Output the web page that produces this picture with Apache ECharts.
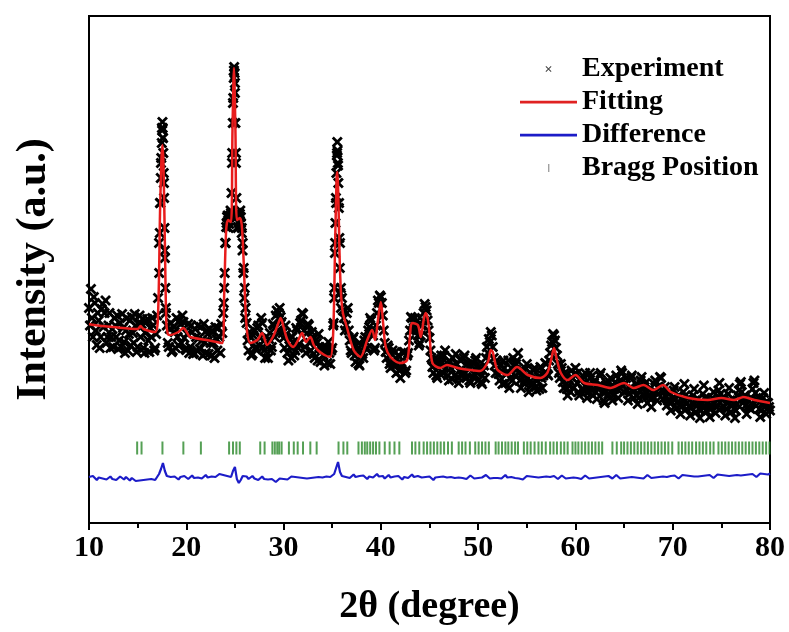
<!DOCTYPE html>
<html>
<head>
<meta charset="utf-8">
<script src="https://cdn.jsdelivr.net/npm/echarts@6/dist/echarts.min.js"></script>
<style>
  html, body { margin: 0; padding: 0; background: #fff; }
  #chart { width: 789px; height: 632px; }
</style>
</head>
<body>
<div id="chart"></div>
<script>
// Rietveld refinement of a powder XRD scan, 2θ = 10°–80°

// Observed scan: counts every 0.1°, starting at 10°
const scanStart = 10;
const scanStep = 0.1;
const scanCounts = [
  430, 395, 468, 410, 372, 452, 440, 385, 356, 420, 405, 350, 372, 428, 438, 392, 420, 445, 360, 372,  // 10.0–11.9
  395, 420, 350, 372, 388, 352, 410, 395, 372, 415, 348, 365, 400, 352, 418, 390, 362, 340, 385, 410,  // 12.0–13.9
  345, 378, 405, 355, 412, 380, 360, 418, 395, 342, 352, 398, 415, 372, 398, 408, 350, 340, 380, 402,  // 14.0–15.9
  408, 365, 342, 390, 372, 410, 395, 345, 350, 378, 415, 450, 560, 640, 720, 790, 770, 680, 545, 430,  // 16.0–17.9
  395, 360, 352, 388, 400, 342, 345, 392, 382, 350, 410, 372, 355, 405, 398, 360, 415, 402, 370, 348,  // 18.0–19.9
  346, 378, 398, 340, 352, 395, 382, 338, 340, 388, 372, 345, 395, 370, 348, 392, 365, 335, 398, 362,  // 20.0–21.9
  340, 385, 378, 338, 388, 360, 335, 382, 360, 330, 392, 368, 345, 390, 372, 340, 398, 380, 420, 470,  // 22.0–23.9
  560, 592, 612, 605, 598, 615, 620, 720, 840, 905, 880, 740, 620, 592, 600, 618, 612, 590, 560, 510,  // 24.0–25.9
  470, 430, 400, 365, 345, 382, 372, 335, 338, 375, 385, 348, 352, 390, 395, 355, 370, 410, 400, 352,  // 26.0–27.9
  345, 330, 372, 360, 330, 368, 380, 345, 352, 398, 395, 372, 415, 425, 385, 420, 430, 412, 402, 380,  // 28.0–29.9
  370, 350, 395, 378, 340, 325, 368, 352, 330, 372, 362, 335, 345, 390, 385, 350, 358, 400, 405, 420,  // 30.0–31.9
  418, 385, 352, 340, 380, 398, 395, 360, 345, 382, 372, 338, 330, 365, 360, 325, 378, 352, 322, 348,  // 32.0–33.9
  350, 335, 315, 352, 345, 320, 362, 340, 318, 345, 350, 395, 450, 560, 640, 740, 715, 640, 560, 470,  // 34.0–35.9
  450, 425, 410, 385, 395, 420, 430, 385, 365, 345, 340, 368, 372, 335, 322, 355, 348, 318, 315, 345,  // 36.0–37.9
  355, 338, 330, 365, 372, 348, 350, 385, 392, 410, 405, 380, 375, 345, 350, 395, 420, 445, 440, 455,  // 38.0–39.9
  452, 440, 415, 385, 360, 342, 330, 355, 350, 318, 310, 338, 345, 315, 322, 342, 300, 318, 335, 305,  // 40.0–41.9
  290, 308, 318, 340, 342, 300, 305, 335, 340, 365, 385, 412, 410, 385, 390, 410, 402, 388, 375, 355,  // 42.0–43.9
  360, 375, 395, 405, 420, 438, 432, 425, 405, 385, 370, 345, 330, 312, 300, 328, 322, 295, 290, 325,  // 44.0–45.9
  318, 298, 335, 322, 300, 335, 345, 310, 320, 295, 285, 322, 310, 288, 330, 315, 295, 338, 318, 292,  // 46.0–47.9
  280, 305, 325, 295, 300, 330, 335, 300, 290, 318, 312, 285, 280, 315, 320, 292, 298, 325, 330, 300,  // 48.0–49.9
  285, 312, 305, 282, 278, 305, 315, 290, 330, 352, 340, 368, 362, 382, 375, 352, 330, 315, 300, 325,  // 50.0–51.9
  320, 298, 285, 315, 305, 278, 325, 310, 280, 298, 300, 325, 270, 290, 310, 285, 330, 315, 295, 318,  // 52.0–53.9
  325, 340, 300, 285, 270, 298, 305, 280, 285, 308, 318, 290, 262, 282, 300, 275, 280, 305, 310, 272,  // 54.0–55.9
  265, 285, 292, 268, 312, 290, 270, 295, 300, 320, 318, 298, 295, 325, 340, 355, 362, 378, 375, 365,  // 56.0–57.9
  350, 335, 318, 300, 290, 318, 310, 282, 270, 300, 295, 268, 255, 275, 285, 262, 305, 290, 270, 298,  // 58.0–59.9
  310, 298, 280, 262, 255, 285, 290, 268, 265, 292, 300, 272, 250, 262, 278, 300, 292, 265, 255, 280,  // 60.0–61.9
  285, 262, 248, 268, 275, 295, 300, 275, 262, 245, 240, 262, 280, 270, 258, 282, 290, 265, 245, 255,  // 62.0–63.9
  268, 282, 295, 268, 250, 272, 285, 305, 300, 275, 262, 280, 290, 265, 245, 258, 270, 290, 295, 268,  // 64.0–65.9
  250, 265, 278, 255, 238, 250, 265, 285, 292, 270, 255, 272, 280, 258, 240, 255, 268, 248, 232, 250,  // 66.0–67.9
  262, 278, 285, 262, 245, 258, 272, 292, 290, 265, 248, 262, 272, 252, 235, 245, 258, 240, 225, 242,  // 68.0–69.9
  250, 265, 272, 248, 230, 242, 255, 235, 218, 232, 245, 262, 278, 255, 228, 240, 250, 232, 215, 230,  // 70.0–71.9
  240, 255, 268, 245, 222, 235, 248, 228, 210, 225, 238, 258, 275, 250, 225, 240, 250, 230, 212, 228,  // 72.0–73.9
  235, 250, 262, 240, 220, 232, 245, 265, 280, 258, 230, 245, 252, 232, 215, 228, 240, 258, 270, 245,  // 74.0–75.9
  222, 235, 248, 228, 210, 225, 238, 255, 265, 278, 282, 262, 240, 248, 255, 235, 218, 232, 245, 230,  // 76.0–77.9
  228, 250, 268, 280, 285, 260, 235, 245, 250, 228, 212, 225, 238, 250, 260, 240, 218, 228, 240, 232,  // 78.0–79.9
  225                                                                                                  // 80.0
];

// Fine steps through the three strongest reflections
const peakAngles = [
  17.22, 17.28, 17.33, 17.38, 17.43, 17.48, 17.52, 17.55, 17.57, 17.60, 17.64, 17.68, 17.72, 17.76, 17.80, 17.85, 17.90,
  23.85, 23.95, 24.05, 24.15, 24.25, 24.35, 24.45, 24.55, 24.65, 24.72, 24.78, 24.83, 24.88, 24.92, 24.96, 25.00, 25.05,
  25.10, 25.15, 25.22, 25.30, 25.38, 25.46, 25.55, 25.62, 25.70, 25.78, 25.86, 25.95, 26.05,
  35.15, 35.22, 35.28, 35.33, 35.38, 35.43, 35.48, 35.52, 35.55, 35.58, 35.63, 35.68, 35.73, 35.78, 35.84, 35.90
];
const peakCounts = [
  500, 580, 640, 690, 730, 760, 785, 802, 790, 770, 740, 700, 650, 590, 530, 470, 420,
  440, 500, 560, 600, 615, 590, 612, 625, 660, 740, 800, 850, 890, 912, 900, 860, 800,
  720, 650, 615, 590, 620, 605, 625, 600, 580, 545, 500, 450, 410,
  400, 470, 540, 600, 650, 700, 735, 762, 745, 720, 680, 630, 570, 510, 460, 430
];

// Calculated profile
const fitAngles = [
  10.0, 10.5, 12.5, 15.0, 15.3, 15.6, 16.8, 17.1, 17.3, 17.45, 17.55, 17.65, 17.8, 17.95, 18.1, 18.3,
  19.2, 19.7, 20.1, 20.4, 22.1, 23.7, 23.9, 24.1, 24.3, 24.6, 24.75, 24.9, 25.05, 25.2, 25.5, 25.7,
  25.9, 26.2, 26.6, 27.3, 27.8, 28.3, 28.9, 29.4, 29.7, 30.0, 30.4, 31.0, 31.5, 31.9, 32.3, 32.75,
  33.1, 33.5, 34.2, 34.8, 35.1, 35.3, 35.45, 35.53, 35.62, 35.75, 35.9, 36.1, 36.5, 37.2, 37.9, 38.6,
  39.1, 39.4, 39.7, 40.0, 40.25, 40.5, 41.0, 42.0, 42.7, 43.0, 43.2, 43.8, 44.1, 44.4, 44.6, 44.8,
  45.0, 45.3, 46.1, 46.8, 47.9, 49.2, 50.2, 51.0, 51.3, 51.5, 51.8, 52.0, 53.0, 54.0, 55.1, 56.4,
  57.1, 57.5, 57.8, 58.1, 58.5, 59.2, 60.0, 60.9, 62.3, 63.6, 65.0, 66.0, 67.0, 68.0, 69.0, 69.8,
  71.6, 73.6, 75.0, 76.3, 77.3, 78.4, 80.0
];
const fitCounts = [
  398, 396, 392, 388, 394, 388, 382, 420, 620, 730, 756, 720, 560, 400, 378, 376,
  382, 390, 380, 372, 366, 360, 460, 586, 606, 602, 786, 910, 786, 606, 610, 596,
  522, 392, 360, 366, 380, 356, 372, 396, 410, 392, 366, 352, 366, 380, 362, 372,
  356, 346, 336, 332, 380, 560, 690, 702, 660, 540, 460, 420, 392, 346, 332, 366,
  386, 366, 406, 442, 396, 352, 332, 320, 326, 376, 400, 396, 372, 406, 420, 410,
  380, 320, 310, 316, 310, 306, 304, 322, 346, 342, 316, 306, 296, 312, 296, 290,
  300, 326, 350, 326, 300, 286, 296, 280, 276, 270, 280, 270, 276, 266, 276, 262,
  250, 246, 250, 246, 252, 246, 240
];

// Difference curve (observed − calculated, offset), every 0.2° from 10°
const diffStep = 0.2;
const diffCounts = [
  92, 88, 94, 90, 86, 91, 95, 89, 92, 87,
  90, 93, 88, 91, 86, 89, 93, 90, 87, 92,
  88, 85, 90, 87, 84, 88, 85, 82, 86, 83,
  87, 84, 88, 90, 86, 92, 98, 108, 120, 104,
  94, 90, 92, 88, 93, 90, 87, 92, 89, 94,
  90, 88, 92, 95, 90, 87, 91, 94, 89, 92,
  96, 91, 88, 93, 97, 92, 95, 98, 94, 96,
  100, 94, 98, 92, 104, 112, 88, 80, 86, 94,
  90, 93, 88, 91, 94, 89, 92, 86, 90, 93,
  88, 91, 87, 84, 88, 85, 82, 86, 89, 85,
  88, 91, 87, 90, 93, 89, 92, 88, 91, 94,
  90, 92, 89, 93, 90, 94, 91, 88, 92, 95,
  91, 89, 93, 96, 92, 94, 98, 110, 122, 102,
  94, 96, 92, 95, 90, 93, 97, 92, 89, 94,
  91, 95, 92, 88, 93, 96, 91, 94, 98, 93,
  90, 94, 89, 92, 96, 91, 88, 93, 90, 94,
  91, 87, 92, 95, 90, 93, 97, 92, 89, 94,
  96, 91, 95, 92, 88, 93, 90, 86, 91, 88,
  92, 89, 93, 96, 91, 88, 92, 95, 90, 87,
  91, 94, 90, 93, 88, 92, 95, 91, 89, 93,
  90, 87, 91, 94, 96, 92, 89, 93, 90, 86,
  90, 93, 89, 92, 96, 91, 88, 92, 95, 90,
  93, 89, 92, 87, 91, 94, 90, 93, 89, 92,
  95, 91, 88, 92, 89, 93, 96, 92, 90, 94,
  91, 88, 92, 95, 91, 89, 93, 90, 87, 91,
  94, 90, 93, 88, 92, 95, 91, 89, 93, 90,
  94, 91, 88, 92, 96, 93, 90, 94, 91, 89,
  93, 96, 92, 89, 93, 90, 94, 91, 88, 92,
  95, 91, 94, 90, 93, 89, 92, 96, 93, 90,
  94, 91, 95, 92, 89, 93, 96, 92, 90, 94,
  91, 95, 92, 89, 93, 96, 92, 95, 91, 94,
  90, 93, 97, 93, 90, 94, 91, 95, 92, 96,
  93, 90, 94, 97, 93, 96, 92, 95, 98, 94,
  91, 95, 92, 96, 99, 95, 92, 96, 93, 97,
  94, 98, 95, 92, 96, 99, 95, 98, 94, 97,
  99
];

// Allowed reflection positions (2θ)
const braggAngles = [
  14.95, 15.40, 17.55, 19.70, 21.50,
  24.40, 24.80, 25.15, 25.50, 27.60, 28.05,
  28.85, 29.10, 29.35, 29.55, 29.80, 30.55, 31.05, 31.45, 32.00, 32.75, 33.40,
  35.65, 36.15, 36.55,
  37.70, 38.05, 38.35, 38.60, 38.90, 39.20, 39.50, 39.85, 40.40, 40.90, 41.40, 41.90,
  43.20, 43.55, 43.95, 44.40, 44.75, 45.10, 45.45, 45.80, 46.15, 46.50, 46.90, 47.30,
  48.00, 48.35, 48.70, 49.15, 49.70, 50.05, 50.40, 50.75, 51.10,
  51.80, 52.10, 52.45, 52.80, 53.10, 53.45, 53.80, 54.10,
  54.70, 55.05, 55.40, 55.80, 56.20, 56.55,
  56.95, 57.40, 57.75, 58.10, 58.50, 58.85, 59.20,
  59.70, 60.00, 60.30, 60.65, 61.00, 61.35, 61.70, 62.05, 62.40, 62.75,
  63.80, 64.25,
  64.70, 65.00, 65.35, 65.70, 66.05, 66.40, 66.75, 67.10, 67.45, 67.80, 68.15, 68.50, 68.85, 69.20, 69.55, 69.95,
  70.60, 70.95, 71.30, 71.65, 72.00, 72.40, 72.75, 73.10, 73.45, 73.85, 74.20,
  74.70, 75.05, 75.40, 75.75, 76.10, 76.45, 76.80, 77.15, 77.50, 77.85, 78.20, 78.55, 78.90, 79.25, 79.60, 79.95
];
const braggLevel = 150;   // height of the reflection-marker row

const xTicks = [10, 20, 30, 40, 50, 60, 70, 80];

// ---- build series data ----
const experimentData = scanCounts.map((c, i) => [+(scanStart + i * scanStep).toFixed(2), c])
  .concat(peakAngles.map((a, i) => [a, peakCounts[i]]));
const fitData = fitAngles.map((a, i) => [a, fitCounts[i]]);
const diffData = diffCounts.map((c, i) => [+(scanStart + i * diffStep).toFixed(2), c]);
const braggData = braggAngles.map(a => [a, braggLevel]);

const SERIF = '"Liberation Serif", "Times New Roman", serif';
const crossPath = 'path://M0,1.8L1.8,0L5,3.2L8.2,0L10,1.8L6.8,5L10,8.2L8.2,10L5,6.8L1.8,10L0,8.2L3.2,5Z';
// legend icons: leading moves pin the icon box to 57x14
const legendCross = 'path://M0,0M57,14M25.5,4.7L26.2,4L28.5,6.3L30.8,4L31.5,4.7L29.2,7L31.5,9.3L30.8,10L28.5,7.7L26.2,10L25.5,9.3L27.8,7Z';
const legendLine = 'path://M0,0M57,14M0,5.7H57V8.5H0Z';
const legendBar = 'path://M0,0M57,14M28,3H29.4V11H28Z';

const chart = echarts.init(document.getElementById('chart'), null, { renderer: 'canvas' });
chart.setOption({
  animation: false,
  backgroundColor: '#fff',
  grid: {
    left: 89, right: 19, top: 16, bottom: 109,
    show: true, borderColor: '#000', borderWidth: 2, backgroundColor: 'transparent'
  },
  legend: {
    orient: 'vertical',
    left: 515,
    top: 50,
    itemWidth: 57,
    itemHeight: 14,
    itemGap: 5,
    selectedMode: false,
    textStyle: { fontFamily: SERIF, fontWeight: 'bold', fontSize: 28, color: '#000' },
    data: [
      { name: 'Experiment', icon: legendCross, itemStyle: { color: '#444', borderWidth: 0 } },
      { name: 'Fitting', icon: legendLine, itemStyle: { color: '#e02222', borderWidth: 0 } },
      { name: 'Difference', icon: legendLine, itemStyle: { color: '#1c1cc8', borderWidth: 0 } },
      { name: 'Bragg Position', icon: legendBar, itemStyle: { color: '#888', borderWidth: 0 } }
    ]
  },
  xAxis: {
    type: 'value',
    min: xTicks[0],
    max: xTicks[xTicks.length - 1],
    interval: 10,
    name: '2θ (degree)',
    nameLocation: 'middle',
    nameGap: 65,
    nameTextStyle: { fontFamily: SERIF, fontWeight: 'bold', fontSize: 38, color: '#000' },
    axisLine: { show: true, lineStyle: { color: '#000', width: 2 } },
    axisTick: { show: true, inside: false, length: 7, lineStyle: { color: '#000', width: 2 } },
    minorTick: { show: true, splitNumber: 2, length: 5, lineStyle: { color: '#000', width: 2 } },
    splitLine: { show: false },
    axisLabel: { fontFamily: SERIF, fontWeight: 'bold', fontSize: 30, color: '#000', margin: 10 }
  },
  yAxis: {
    type: 'value',
    min: 0,
    max: 1014,
    name: 'Intensity (a.u.)',
    nameLocation: 'middle',
    nameRotate: 90,
    nameGap: 34,
    nameTextStyle: { fontFamily: SERIF, fontWeight: 'bold', fontSize: 42, color: '#000' },
    axisLine: { show: true, lineStyle: { color: '#000', width: 2 } },
    axisTick: { show: false },
    axisLabel: { show: false },
    splitLine: { show: false }
  },
  series: [
    {
      name: 'Experiment',
      type: 'scatter',
      data: experimentData,
      symbol: crossPath,
      symbolSize: 11,
      itemStyle: { color: '#000', opacity: 1 },
      z: 2
    },
    {
      name: 'Fitting',
      type: 'line',
      data: fitData,
      showSymbol: false,
      smooth: 0.3,
      lineStyle: { color: '#e81c1c', width: 2.5 },
      itemStyle: { color: '#e02222' },
      z: 3
    },
    {
      name: 'Difference',
      type: 'line',
      data: diffData,
      showSymbol: false,
      lineStyle: { color: '#1c1cc8', width: 2.2 },
      itemStyle: { color: '#1c1cc8' },
      z: 3
    },
    {
      name: 'Bragg Position',
      type: 'scatter',
      data: braggData,
      symbol: 'rect',
      symbolSize: [2, 13],
      itemStyle: { color: '#2a882a' },
      z: 2
    }
  ]
});
</script>
</body>
</html>
